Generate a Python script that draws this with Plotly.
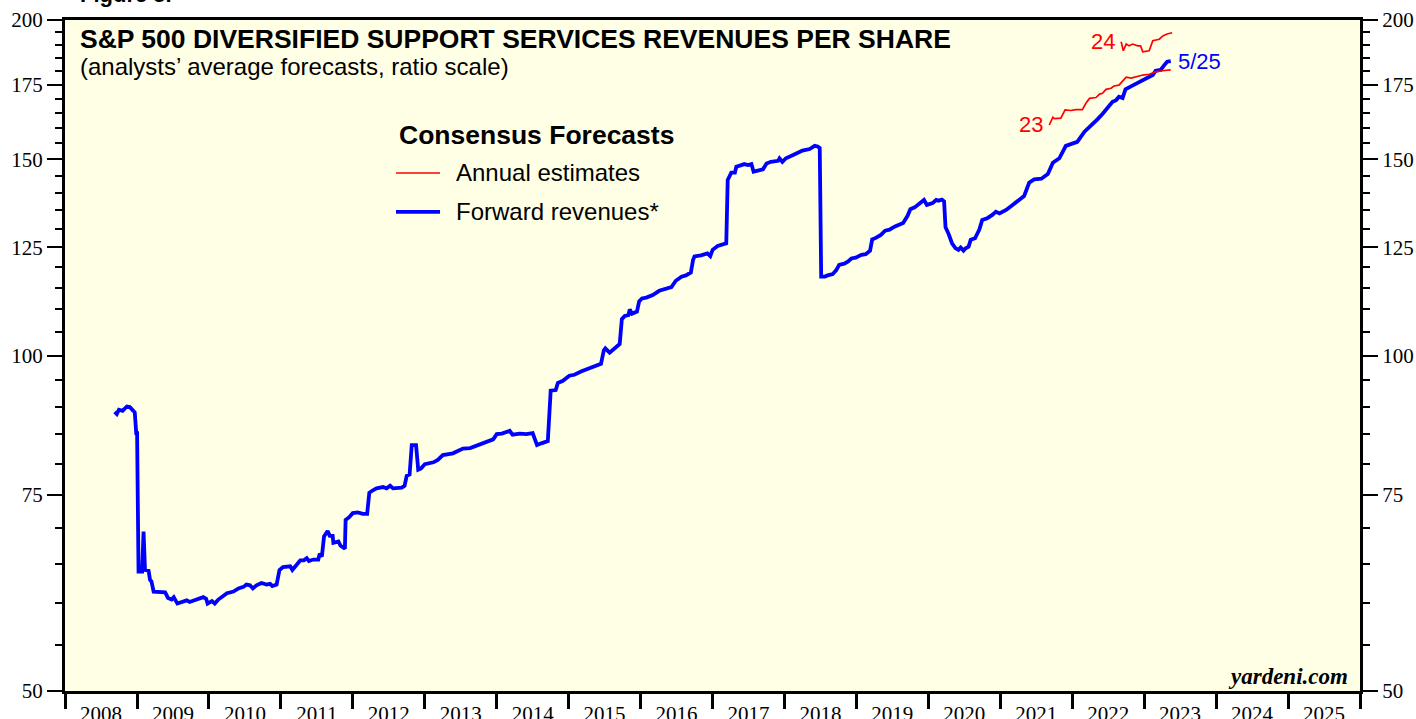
import numpy as np
import pandas as pd
import plotly.graph_objects as go

# forward revenues per share (weekly-ish readings), decimal year -> $ per share
forward_revenues = [
    (2008.69, 89.0), (2008.72, 88.6), (2008.75, 89.4), (2008.80, 89.2), (2008.86, 90.0), (2008.90, 89.9),
    (2008.95, 89.2), (2008.97, 88.9), (2008.99, 85.2), (2009.00, 85.2), (2009.02, 64.0), (2009.07, 64.0),
    (2009.09, 69.5), (2009.11, 64.2), (2009.16, 64.1), (2009.18, 62.9), (2009.20, 62.7), (2009.23, 61.4),
    (2009.39, 61.3), (2009.43, 60.6), (2009.48, 60.4), (2009.51, 60.7), (2009.56, 59.9), (2009.62, 60.1),
    (2009.69, 60.3), (2009.73, 60.1), (2009.83, 60.4), (2009.92, 60.7), (2009.96, 60.5), (2009.98, 59.9),
    (2010.04, 60.2), (2010.08, 59.9), (2010.13, 60.4), (2010.20, 60.8), (2010.25, 61.2), (2010.34, 61.4),
    (2010.41, 61.8), (2010.48, 62.0), (2010.52, 62.3), (2010.57, 62.2), (2010.61, 61.8), (2010.66, 62.2),
    (2010.73, 62.5), (2010.80, 62.3), (2010.85, 62.4), (2010.88, 62.1), (2010.94, 62.3), (2010.98, 64.2),
    (2011.03, 64.6), (2011.13, 64.7), (2011.16, 64.2), (2011.22, 64.9), (2011.27, 65.5), (2011.32, 65.5),
    (2011.36, 65.8), (2011.39, 65.4), (2011.45, 65.6), (2011.52, 65.6), (2011.54, 66.4), (2011.57, 66.0),
    (2011.60, 68.8), (2011.65, 69.6), (2011.68, 68.9), (2011.72, 68.9), (2011.73, 67.9), (2011.80, 68.1),
    (2011.83, 67.5), (2011.89, 67.1), (2011.90, 71.2), (2011.95, 71.6), (2012.00, 72.2), (2012.07, 72.3),
    (2012.14, 72.1), (2012.20, 72.1), (2012.23, 75.3), (2012.28, 75.7), (2012.33, 76.0), (2012.42, 76.2),
    (2012.47, 76.0), (2012.52, 76.4), (2012.56, 76.0), (2012.68, 76.1), (2012.72, 76.4), (2012.75, 78.0),
    (2012.79, 78.2), (2012.82, 83.1), (2012.88, 83.1), (2012.91, 79.0), (2012.95, 79.2), (2013.00, 79.9),
    (2013.12, 80.2), (2013.18, 80.6), (2013.25, 81.4), (2013.39, 81.7), (2013.46, 82.1), (2013.53, 82.5),
    (2013.63, 82.6), (2013.69, 82.9), (2013.79, 83.4), (2013.88, 83.8), (2013.95, 84.1), (2014.00, 85.0),
    (2014.07, 85.1), (2014.18, 85.6), (2014.22, 84.9), (2014.32, 85.1), (2014.41, 85.0), (2014.50, 85.2),
    (2014.56, 83.1), (2014.62, 83.4), (2014.71, 83.8), (2014.75, 93.0), (2014.82, 93.1), (2014.85, 94.5),
    (2014.92, 94.9), (2015.01, 95.9), (2015.08, 96.1), (2015.18, 96.8), (2015.25, 97.2), (2015.32, 97.4),
    (2015.38, 97.9), (2015.45, 98.3), (2015.49, 101.1), (2015.51, 101.5), (2015.57, 100.6), (2015.64, 101.5),
    (2015.71, 102.4), (2015.74, 107.8), (2015.78, 108.5), (2015.83, 108.7), (2015.85, 110.0), (2015.88, 109.0),
    (2015.95, 109.5), (2015.98, 111.8), (2016.02, 112.5), (2016.08, 112.7), (2016.17, 113.3), (2016.26, 114.3),
    (2016.36, 114.9), (2016.43, 115.2), (2016.49, 116.7), (2016.57, 117.7), (2016.63, 118.0), (2016.70, 118.7),
    (2016.73, 121.8), (2016.75, 122.7), (2016.84, 123.0), (2016.93, 123.5), (2016.97, 122.8), (2017.00, 124.4),
    (2017.07, 125.4), (2017.12, 125.6), (2017.19, 126.1), (2017.21, 143.7), (2017.26, 145.9), (2017.31, 145.9),
    (2017.33, 147.7), (2017.40, 148.2), (2017.44, 148.5), (2017.49, 148.2), (2017.54, 148.5), (2017.57, 146.2),
    (2017.63, 146.4), (2017.70, 146.9), (2017.75, 148.7), (2017.81, 149.2), (2017.91, 149.5), (2017.93, 150.3),
    (2017.97, 149.2), (2018.02, 150.3), (2018.12, 151.3), (2018.18, 151.9), (2018.25, 152.7), (2018.35, 153.2),
    (2018.42, 154.2), (2018.46, 154.0), (2018.49, 153.5), (2018.51, 117.7), (2018.56, 117.7), (2018.60, 118.0),
    (2018.67, 118.3), (2018.72, 119.3), (2018.76, 120.6), (2018.83, 120.9), (2018.88, 121.4), (2018.93, 122.2),
    (2018.99, 122.4), (2019.07, 123.1), (2019.13, 123.3), (2019.19, 124.2), (2019.22, 127.1), (2019.27, 127.5),
    (2019.34, 128.3), (2019.40, 129.4), (2019.46, 129.7), (2019.53, 130.5), (2019.60, 131.2), (2019.65, 131.5),
    (2019.71, 133.4), (2019.75, 135.3), (2019.81, 135.8), (2019.88, 136.9), (2019.94, 137.9), (2019.98, 136.5),
    (2020.06, 137.0), (2020.11, 137.9), (2020.14, 137.7), (2020.19, 138.0), (2020.22, 137.5), (2020.24, 130.3),
    (2020.28, 128.7), (2020.33, 126.1), (2020.38, 124.8), (2020.42, 124.4), (2020.45, 125.0), (2020.49, 124.2),
    (2020.52, 124.8), (2020.56, 125.2), (2020.59, 127.0), (2020.65, 127.4), (2020.71, 129.7), (2020.75, 132.3),
    (2020.82, 132.8), (2020.89, 133.7), (2020.94, 134.6), (2020.99, 134.1), (2021.08, 135.1), (2021.17, 136.5),
    (2021.26, 138.1), (2021.33, 139.0), (2021.40, 142.9), (2021.47, 143.9), (2021.57, 144.1), (2021.66, 145.5),
    (2021.73, 148.9), (2021.82, 150.3), (2021.91, 154.2), (2022.00, 154.8), (2022.07, 155.5), (2022.17, 158.8),
    (2022.26, 160.7), (2022.35, 162.9), (2022.42, 164.7), (2022.49, 167.0), (2022.56, 168.9), (2022.61, 169.5),
    (2022.65, 170.7), (2022.70, 170.2), (2022.74, 173.3), (2022.81, 174.3), (2022.91, 175.7), (2023.02, 177.3),
    (2023.12, 178.5), (2023.16, 180.1), (2023.23, 180.4), (2023.28, 182.2), (2023.32, 183.5), (2023.37, 183.7),
]

# annual consensus estimates for 2023 and 2024
estimates_2023 = [
    (2021.68, 161.0), (2021.73, 163.6), (2021.75, 163.1), (2021.84, 163.3), (2021.90, 166.1), (2021.98, 165.9),
    (2022.05, 166.2), (2022.14, 166.2), (2022.19, 168.4), (2022.24, 170.1), (2022.33, 170.4), (2022.38, 171.6),
    (2022.42, 171.9), (2022.47, 173.3), (2022.54, 173.7), (2022.58, 174.5), (2022.65, 174.8), (2022.72, 176.7),
    (2022.75, 177.7), (2022.82, 177.4), (2022.88, 177.9), (2022.98, 178.5), (2023.07, 178.8), (2023.16, 179.7),
    (2023.25, 180.1), (2023.37, 180.4),
]
estimates_2024 = [
    (2022.68, 191.2), (2022.71, 187.7), (2022.75, 190.3), (2022.79, 189.6), (2022.84, 190.3), (2022.91, 189.6),
    (2022.95, 189.6), (2022.98, 187.3), (2023.07, 187.7), (2023.12, 191.6), (2023.21, 192.2), (2023.26, 193.5),
    (2023.32, 194.3), (2023.39, 194.8),
]

major_ticks = [50, 75, 100, 125, 150, 175, 200]
minor_ticks = [v for v in range(55, 200, 5) if v not in major_ticks]

RED = "#FF0000"
BLUE = "#0000FF"
SANS = "Liberation Sans, Arial"
SERIF = "Liberation Serif, Times New Roman"


def to_dates(points):
    out = []
    for yr, _ in points:
        year = int(yr)
        out.append(pd.Timestamp(year, 1, 1) + pd.Timedelta(days=(yr - year) * 365.25))
    return out


def values(points):
    return [v for _, v in points]


fig = go.Figure()

fig.add_trace(go.Scatter(x=to_dates(estimates_2023), y=values(estimates_2023), mode="lines",
                         line=dict(color=RED, width=1.7), xaxis="x2", yaxis="y2"))
fig.add_trace(go.Scatter(x=to_dates(estimates_2024), y=values(estimates_2024), mode="lines",
                         line=dict(color=RED, width=1.7), xaxis="x2", yaxis="y2"))
fig.add_trace(go.Scatter(x=to_dates(forward_revenues), y=values(forward_revenues), mode="lines",
                         line=dict(color=BLUE, width=3.8)))

x_range = ["2008-01-01", "2026-01-01"]
y_range = [np.log10(50), np.log10(200)]

yaxis_common = dict(
    type="log", range=y_range, tickmode="array", tickvals=major_ticks,
    ticktext=[str(v) for v in major_ticks], ticks="outside", ticklen=15, tickwidth=2,
    tickcolor="black", showgrid=False, zeroline=False, automargin=False,
    tickfont=dict(family=SERIF, size=21, color="black"),
    minor=dict(tickmode="array", tickvals=minor_ticks, ticks="outside", ticklen=7,
               tickwidth=2, tickcolor="black", showgrid=False),
    showline=True, linewidth=3, linecolor="black",
)

fig.update_layout(
    width=1416, height=719,
    margin=dict(l=65, r=56, t=20, b=28, autoexpand=False),
    paper_bgcolor="white", plot_bgcolor="#FFFFE6",
    showlegend=False,
    xaxis=dict(type="date", range=x_range, tick0="2008-01-01", dtick="M12",
               ticks="outside", ticklen=15, tickwidth=3, tickcolor="black",
               showticklabels=False, showgrid=False, zeroline=False, automargin=False,
               showline=True, linewidth=3, linecolor="black", mirror=True),
    xaxis2=dict(type="date", range=x_range, overlaying="x", anchor="y", side="bottom",
                tick0="2008-01-01", dtick="M12", ticklabelmode="period", tickformat="%Y",
                ticks="outside", ticklen=4, tickcolor="rgba(0,0,0,0)", automargin=False,
                tickfont=dict(family=SERIF, size=21, color="black"),
                showgrid=False, zeroline=False, showline=False),
    yaxis=dict(**yaxis_common, mirror=True),
    yaxis2=dict(**yaxis_common, overlaying="y", side="right", anchor="x2"),
)

# titles
fig.add_annotation(xref="paper", yref="paper", x=0.0100, y=1.0164, xanchor="left", yanchor="bottom",
                   text="<b>Figure 5.</b>", showarrow=False, font=dict(family=SANS, size=22, color="black"))
fig.add_annotation(xref="paper", yref="paper", x=0.0100, y=0.9710, xanchor="left", yanchor="middle",
                   text="<b>S&P 500 DIVERSIFIED SUPPORT SERVICES REVENUES PER SHARE</b>", showarrow=False,
                   font=dict(family=SANS, size=26.5, color="black"))
fig.add_annotation(xref="paper", yref="paper", x=0.0100, y=0.9300, xanchor="left", yanchor="middle",
                   text="(analysts’ average forecasts, ratio scale)", showarrow=False,
                   font=dict(family=SANS, size=24, color="black"))

# legend block
fig.add_annotation(xref="paper", yref="paper", x=0.2564, y=0.8286, xanchor="left", yanchor="middle",
                   text="<b>Consensus Forecasts</b>", showarrow=False,
                   font=dict(family=SANS, size=26.5, color="black"))
fig.add_annotation(xref="paper", yref="paper", x=0.3004, y=0.7720, xanchor="left", yanchor="middle",
                   text="Annual estimates", showarrow=False, font=dict(family=SANS, size=24, color="black"))
fig.add_annotation(xref="paper", yref="paper", x=0.3004, y=0.7139, xanchor="left", yanchor="middle",
                   text="Forward revenues*", showarrow=False, font=dict(family=SANS, size=24, color="black"))
fig.add_shape(type="line", xref="paper", yref="paper", x0=0.2556, x1=0.2896, y0=0.7720, y1=0.7720,
              line=dict(color=RED, width=1.7))
fig.add_shape(type="line", xref="paper", yref="paper", x0=0.2556, x1=0.2896, y0=0.7139, y1=0.7139,
              line=dict(color=BLUE, width=3.8))

# series labels anchored to data ends
d23 = to_dates(estimates_2023)
d24 = to_dates(estimates_2024)
dfw = to_dates(forward_revenues)
fig.add_annotation(x=d23[0], y=np.log10(estimates_2023[0][1]), xanchor="right", yanchor="middle", xshift=-4,
                   text="23", showarrow=False, font=dict(family=SANS, size=22, color=RED))
fig.add_annotation(x=d24[0], y=np.log10(estimates_2024[0][1]), xanchor="right", yanchor="middle", xshift=-4,
                   text="24", showarrow=False, font=dict(family=SANS, size=22, color=RED))
fig.add_annotation(x=dfw[-1], y=np.log10(forward_revenues[-1][1]), xanchor="left", yanchor="middle", xshift=5,
                   text="5/25", showarrow=False, font=dict(family=SANS, size=22, color=BLUE))

fig.add_annotation(xref="paper", yref="paper", x=0.9923, y=0.0209, xanchor="right", yanchor="middle",
                   text="<b><i>yardeni.com</i></b>", showarrow=False,
                   font=dict(family=SERIF, size=23, color="black"))

# drop the default 8px page margin so the figure sits at the window's top-left corner
fig.write_html("out.html", config={"displayModeBar": False},
               post_script="document.body.style.margin='0';")
